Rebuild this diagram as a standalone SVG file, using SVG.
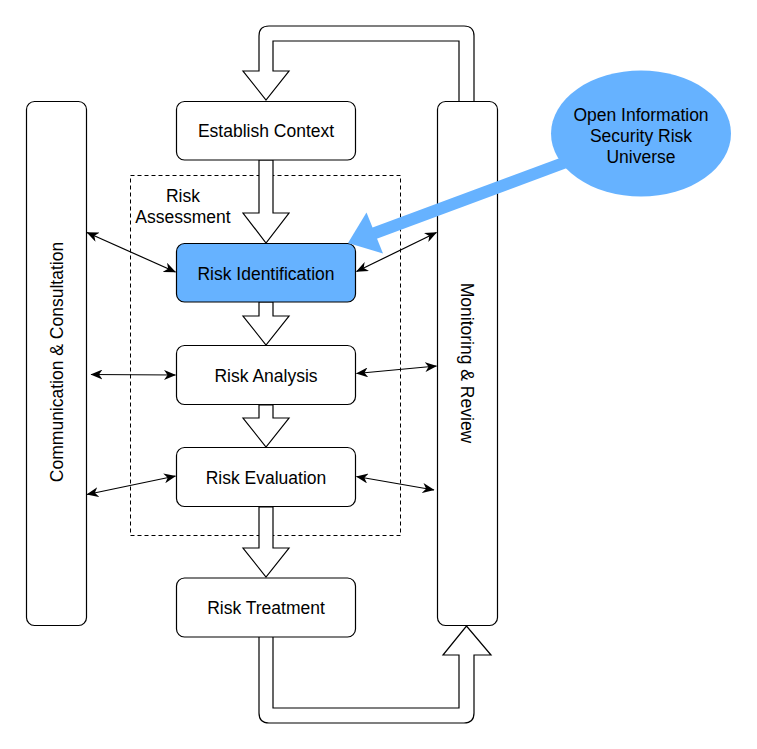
<svg xmlns="http://www.w3.org/2000/svg" width="757" height="749" viewBox="0 0 757 749">
<defs>
<marker id="ah" viewBox="0 0 12 10" refX="11.5" refY="5" markerWidth="12" markerHeight="10" markerUnits="userSpaceOnUse" orient="auto-start-reverse">
<path d="M0,0 L12,5 L0,10 L3.5,5 z" fill="#000"/>
</marker>
<style>
.box{fill:#fff;stroke:#000;stroke-width:1.2}
.blue{fill:#66B2FF;stroke:#000;stroke-width:1.2}
.t{font-family:"Liberation Sans",Arial,Helvetica,sans-serif;font-size:17.5px;fill:#000;text-anchor:middle}
.fat{fill:#fff;stroke:#000;stroke-width:1.2;stroke-linejoin:miter}
.thin{fill:none;stroke:#000;stroke-width:1.2;marker-start:url(#ah);marker-end:url(#ah)}
</style>
</defs>
<rect width="757" height="749" fill="#fff"/>

<g id="risk-assessment">
<rect x="130.5" y="175.5" width="270" height="360" fill="none" stroke="#000" stroke-width="1" stroke-dasharray="4,3"/>
<text class="t" x="183" y="202">Risk</text>
<text class="t" x="183" y="222.5">Assessment</text>
</g>

<g id="connectors">
<path class="fat" d="M459,101 L459,41 L273,41 L273,71 L289,71 L266,100 L243,71 L259,71 L259,36 Q259,26 269,26 L464,26 Q474,26 474,36 L474,101"/>
<polygon class="fat" points="259,160 273,160 273,213 289,213 266,243 243,213 259,213"/>
<polygon class="fat" points="259,302 273,302 273,316 289,316 266,345 243,316 259,316"/>
<polygon class="fat" points="259,405 273,405 273,418 289,418 266,447 243,418 259,418"/>
<polygon class="fat" points="259,507 273,507 273,548 289,548 266,577 243,548 259,548"/>
<path class="fat" d="M259,637 L259,713 Q259,723 269,723 L464,723 Q474,723 474,713 L474,655 L491,655 L466.5,626 L443,655 L459,655 L459,708 L273,708 L273,637"/>
<line class="thin" x1="87" y1="232.5" x2="175.5" y2="272"/>
<line class="thin" x1="91" y1="374.5" x2="175.5" y2="375"/>
<line class="thin" x1="87" y1="494.5" x2="175.5" y2="476"/>
<line class="thin" x1="356.5" y1="271.5" x2="436.5" y2="232.5"/>
<line class="thin" x1="356.5" y1="373.5" x2="436.5" y2="366"/>
<line class="thin" x1="356.5" y1="476.5" x2="434" y2="490"/>
</g>

<g id="communication">
<rect class="box" x="26.5" y="101.5" width="60" height="524" rx="8"/>
<text class="t" transform="translate(62.5,362) rotate(-90)">Communication &amp; Consultation</text>
</g>

<g id="monitoring">
<rect class="box" x="437.5" y="101.5" width="60" height="524" rx="8"/>
<text class="t" transform="translate(461,363) rotate(90)">Monitoring &amp; Review</text>
</g>

<g id="establish-context">
<rect class="box" x="176.5" y="101.5" width="179" height="58.5" rx="8"/>
<text class="t" x="266" y="137">Establish Context</text>
</g>

<g id="risk-identification">
<rect class="blue" x="176.5" y="243.5" width="179" height="58.5" rx="8"/>
<text class="t" x="266" y="279.5">Risk Identification</text>
</g>

<g id="risk-analysis">
<rect class="box" x="176.5" y="345.5" width="179" height="59" rx="8"/>
<text class="t" x="266" y="381.5">Risk Analysis</text>
</g>

<g id="risk-evaluation">
<rect class="box" x="176.5" y="447.5" width="179" height="59" rx="8"/>
<text class="t" x="266" y="483.5">Risk Evaluation</text>
</g>

<g id="risk-treatment">
<rect class="box" x="176.5" y="578" width="179" height="59" rx="8"/>
<text class="t" x="266" y="614">Risk Treatment</text>
</g>

<g id="universe-arrow">
<line x1="585" y1="155" x2="372" y2="234.2" stroke="#66B2FF" stroke-width="12"/>
<polygon points="348,243 366.5,212.5 383,253.5" fill="#66B2FF"/>
</g>

<g id="osr-universe">
<ellipse cx="641" cy="133.5" rx="90" ry="63" fill="#66B2FF"/>
<text class="t" x="641" y="121">Open Information</text>
<text class="t" x="641" y="142">Security Risk</text>
<text class="t" x="641" y="163">Universe</text>
</g>
</svg>
